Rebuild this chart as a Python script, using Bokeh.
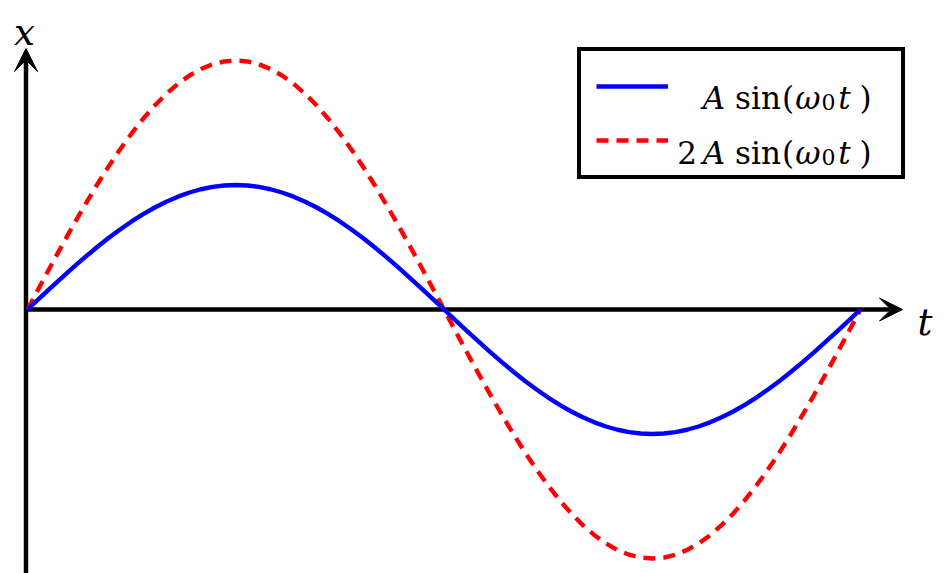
from bokeh.plotting import figure
from bokeh.models import Range1d, Arrow, VeeHead, Label, Legend, LegendItem
from bokeh.embed import file_html
from bokeh.resources import INLINE

# ---- data: phase omega0*t in degrees over one period, and curve values (units of A)
phase_deg = [0, 5, 10, 15, 20, 25, 30, 35, 40, 45, 50, 55, 60, 65, 70, 75, 80, 85, 90,
             95, 100, 105, 110, 115, 120, 125, 130, 135, 140, 145, 150, 155, 160, 165, 170, 175, 180,
             185, 190, 195, 200, 205, 210, 215, 220, 225, 230, 235, 240, 245, 250, 255, 260, 265, 270,
             275, 280, 285, 290, 295, 300, 305, 310, 315, 320, 325, 330, 335, 340, 345, 350, 355, 360]
x_A = [0.0, 0.0872, 0.1736, 0.2588, 0.3420, 0.4226, 0.5000, 0.5736, 0.6428, 0.7071, 0.7660, 0.8192,
       0.8660, 0.9063, 0.9397, 0.9659, 0.9848, 0.9962, 1.0000,
       0.9962, 0.9848, 0.9659, 0.9397, 0.9063, 0.8660, 0.8192, 0.7660, 0.7071, 0.6428, 0.5736,
       0.5000, 0.4226, 0.3420, 0.2588, 0.1736, 0.0872, 0.0,
       -0.0872, -0.1736, -0.2588, -0.3420, -0.4226, -0.5000, -0.5736, -0.6428, -0.7071, -0.7660, -0.8192,
       -0.8660, -0.9063, -0.9397, -0.9659, -0.9848, -0.9962, -1.0000,
       -0.9962, -0.9848, -0.9659, -0.9397, -0.9063, -0.8660, -0.8192, -0.7660, -0.7071, -0.6428, -0.5736,
       -0.5000, -0.4226, -0.3420, -0.2588, -0.1736, -0.0872, 0.0]
x_2A = [0.0, 0.1743, 0.3473, 0.5176, 0.6840, 0.8452, 1.0000, 1.1472, 1.2856, 1.4142, 1.5321, 1.6383,
        1.7321, 1.8126, 1.8794, 1.9319, 1.9696, 1.9924, 2.0000,
        1.9924, 1.9696, 1.9319, 1.8794, 1.8126, 1.7321, 1.6383, 1.5321, 1.4142, 1.2856, 1.1472,
        1.0000, 0.8452, 0.6840, 0.5176, 0.3473, 0.1743, 0.0,
        -0.1743, -0.3473, -0.5176, -0.6840, -0.8452, -1.0000, -1.1472, -1.2856, -1.4142, -1.5321, -1.6383,
        -1.7321, -1.8126, -1.8794, -1.9319, -1.9696, -1.9924, -2.0000,
        -1.9924, -1.9696, -1.9319, -1.8794, -1.8126, -1.7321, -1.6383, -1.5321, -1.4142, -1.2856, -1.1472,
        -1.0000, -0.8452, -0.6840, -0.5176, -0.3473, -0.1743, 0.0]

# ---- layout (page pixels)
W, H = 948, 573
OFF = 0
T0_PX, T1_PX = 27.0, 860.0       # page x of t=0 and of one period
Y0_PX, A_PX = 309.0, 124.5        # page y of x=0, pixels per A
SX = (T1_PX - T0_PX) / 360.0


def dx(px):
    return (px - T0_PX) / SX


def dy(py):
    return (Y0_PX - py) / A_PX


p = figure(width=W, height=H, output_backend="svg", toolbar_location=None,
           x_range=Range1d(dx(OFF), dx(OFF + W)), y_range=Range1d(dy(OFF + H), dy(OFF)),
           min_border=0, x_axis_location=None, y_axis_location=None,
           outline_line_color=None, background_fill_color="white", border_fill_color="white")
p.xgrid.visible = False
p.ygrid.visible = False

# axes with arrow heads (under curves)
ax_w = 4.5
p.add_layout(Arrow(end=VeeHead(size=23, fill_color="black", line_color="black", line_width=1),
                   x_start=dx(25.5), y_start=dy(OFF + H + 5), x_end=dx(25.5), y_end=dy(48),
                   line_color="black", line_width=ax_w, level="underlay"))
p.add_layout(Arrow(end=VeeHead(size=23, fill_color="black", line_color="black", line_width=1),
                   x_start=dx(23.5), y_start=0, x_end=dx(902), y_end=0,
                   line_color="black", line_width=ax_w, level="underlay"))

r2 = p.line(phase_deg, x_2A, line_color="#ff0000", line_width=4.4, line_dash="12 8")
r1 = p.line(phase_deg, x_A, line_color="#0000ff", line_width=4.4)

legend = Legend(items=[LegendItem(label=" ", renderers=[r1]), LegendItem(label=" ", renderers=[r2])],
                location=(577, 394), padding=15, spacing=14, margin=0,
                glyph_width=72, glyph_height=40, label_height=40, label_width=213, label_standoff=5,
                border_line_color="black", border_line_width=4.5, border_line_alpha=1.0,
                background_fill_color="white", background_fill_alpha=0.0,
                label_text_font_size="20px")
p.add_layout(legend)

FONT = "DejaVu Serif"


def piece(text, cx, base, style="normal", size="31px"):
    p.add_layout(Label(x=dx(cx), y=dy(base), text=text, text_font=FONT, text_font_style=style,
                       text_font_size=size, text_align="center", text_baseline="alphabetic",
                       text_color="black", level="overlay"))


for base, lead in [(97, False), (152, True)]:
    if lead:
        piece("2", 686.5, base)
    piece("A", 713.5, base, "italic")
    piece("sin", 757.5, base)
    piece("(", 787.5, base)
    piece("ω", 807.5, base, "italic")
    piece("0", 828, base + 4, "normal", "22px")
    piece("t", 844, base, "italic")
    piece(")", 865, base)

# axis names
piece("x", 24, 31.5, "italic", "37px")
piece("t", 924.5, 321.5, "italic", "37px")

open("out.html", "w").write(file_html(p, INLINE))
